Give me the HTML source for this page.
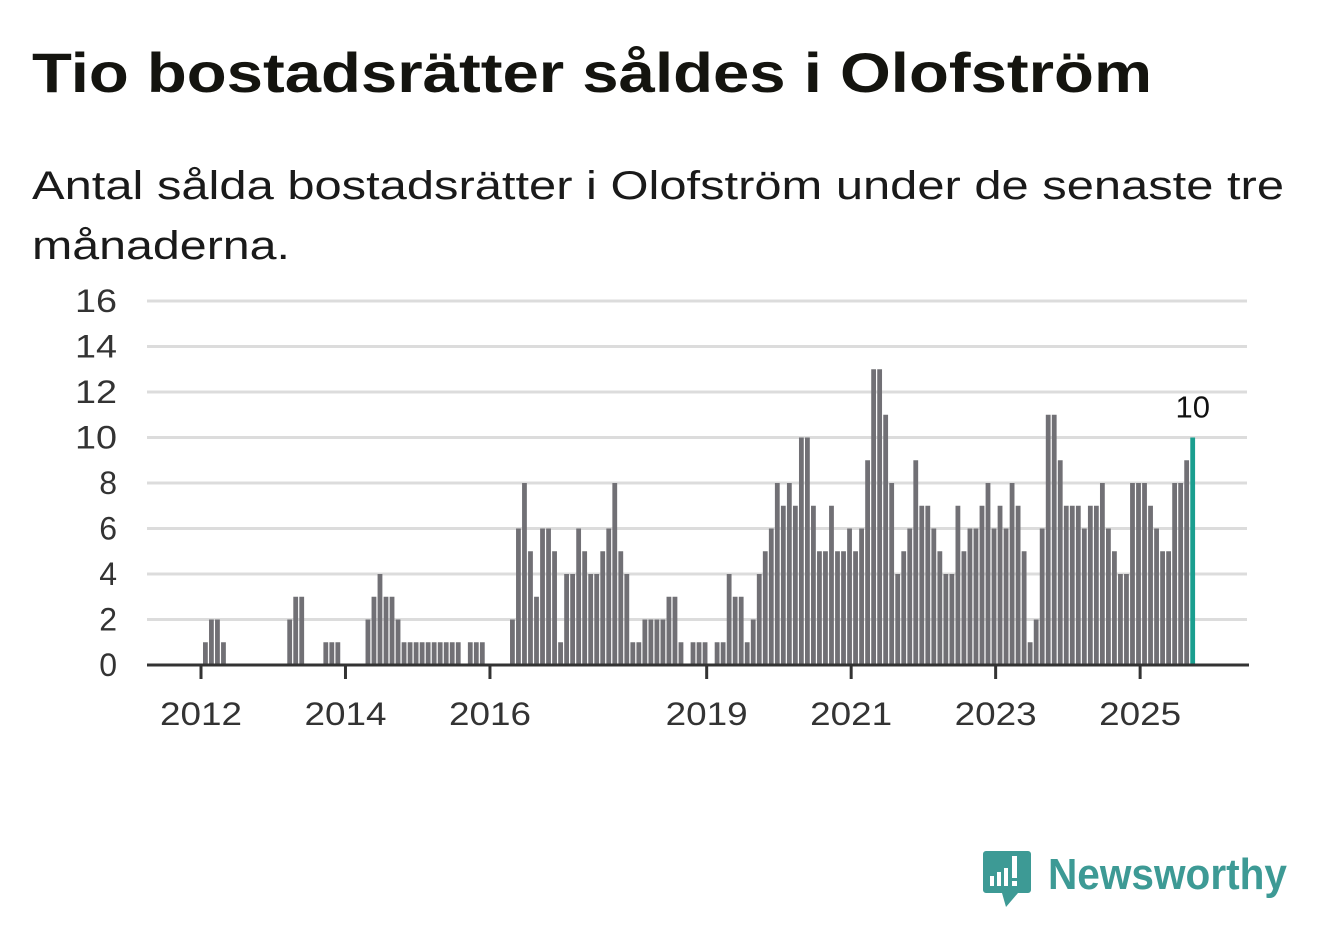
<!DOCTYPE html>
<html><head><meta charset="utf-8"><style>
html,body{margin:0;padding:0;background:#fff;}
svg{display:block;font-family:"Liberation Sans",sans-serif;}
</style></head><body>
<svg id="chart" width="1322" height="939" viewBox="0 0 1322 939">
<text x="32" y="92" font-size="56" font-weight="bold" fill="#14140f" textLength="1120" lengthAdjust="spacingAndGlyphs">Tio bostadsrätter såldes i Olofström</text>
<text x="32" y="199" font-size="40" fill="#1a1a1a" textLength="1252" lengthAdjust="spacingAndGlyphs">Antal sålda bostadsrätter i Olofström under de senaste tre</text>
<text x="32" y="259" font-size="40" fill="#1a1a1a" textLength="258" lengthAdjust="spacingAndGlyphs">månaderna.</text>
<g id="grid"></g>
<g id="bars"></g>
<g id="axis"></g>
<g>
<path d="M986 851 h42 a3 3 0 0 1 3 3 v36 a3 3 0 0 1 -3 3 h-10 l-12 14 l-4 -14 h-16 a3 3 0 0 1 -3 -3 v-36 a3 3 0 0 1 3 -3z" fill="#3d9a95"/>
<rect x="990" y="876" width="4" height="10" fill="#fff"/>
<rect x="997" y="872" width="4" height="14" fill="#fff"/>
<rect x="1004" y="868" width="4" height="18" fill="#fff"/>
<rect x="1012" y="856" width="5" height="22" fill="#fff"/>
<rect x="1012" y="881" width="5" height="5" fill="#fff"/>
<text x="1048" y="889" font-size="44" font-weight="bold" fill="#3d9a95" textLength="239" lengthAdjust="spacingAndGlyphs">Newsworthy</text>
</g>
</svg>
<script>
const values = [1,2,2,1,0,0,0,0,0,0,0,0,0,0,2,3,3,0,0,0,1,1,1,0,0,0,0,2,3,4,3,3,2,1,1,1,1,1,1,1,1,1,1,0,1,1,1,0,0,0,0,2,6,8,5,3,6,6,5,1,4,4,6,5,4,4,5,6,8,5,4,1,1,2,2,2,2,3,3,1,0,1,1,1,0,1,1,4,3,3,1,2,4,5,6,8,7,8,7,10,10,7,5,5,7,5,5,6,5,6,9,13,13,11,8,4,5,6,9,7,7,6,5,4,4,7,5,6,6,7,8,6,7,6,8,7,5,1,2,6,11,11,9,7,7,7,6,7,7,8,6,5,4,4,8,8,8,7,6,5,5,8,8,9,10];
const startYear = 2012;
const yTicks = [0,2,4,6,8,10,12,14,16];
const xTickYears = [2012,2014,2016,2019,2021,2023,2025];
const NS='http://www.w3.org/2000/svg';
const monthW = 6.02, x0 = 201, yBase = 665, unit = 22.75;
function xMonth(i){return x0 + i*monthW;}
function yVal(v){return yBase - v*unit;}
function mk(tag, attrs, parent){const e=document.createElementNS(NS,tag);for(const k in attrs)e.setAttribute(k,attrs[k]);parent.appendChild(e);return e;}
const grid=document.getElementById('grid'), bars=document.getElementById('bars'), axis=document.getElementById('axis');
yTicks.forEach(t=>{
  if(t>0){const l=mk('line',{x1:147,x2:1247,y1:yVal(t),y2:yVal(t),stroke:'#dcdcdc','stroke-width':3},grid);
  
  }
  const tx=mk('text',{x:117,y:yVal(t)+11,'text-anchor':'end','font-size':32,fill:'#333'},grid);
  if(t>=10){tx.setAttribute('textLength',42);tx.setAttribute('lengthAdjust','spacingAndGlyphs');}
  tx.textContent=t;
  
  
});
values.forEach((v,i)=>{
  if(v<=0)return;
  const last=i===values.length-1;
  const r=mk('rect',{x:xMonth(i)+2,y:yVal(v),width:4.8,height:v*unit,fill:last?'#1a9e8f':'#717075'},bars);
  
  
  if(last){const lb=mk('text',{x:xMonth(i)+4.5,y:yVal(v)-20,'text-anchor':'middle','font-size':31,fill:'#111'},bars);
    lb.textContent=v;
    
    }
});
const base=mk('line',{x1:147,x2:1249,y1:yBase,y2:yBase,stroke:'#333','stroke-width':3},axis);


xTickYears.forEach(y=>{
  const x=xMonth((y-startYear)*12);
  const t=mk('line',{x1:x,x2:x,y1:yBase,y2:yBase+14,stroke:'#333','stroke-width':3},axis);
  
  
  const tx=mk('text',{x:x,y:725,'text-anchor':'middle','font-size':32,fill:'#333',textLength:82,lengthAdjust:'spacingAndGlyphs'},axis);
  tx.textContent=y;
  
  
});
</script>
</body></html>
